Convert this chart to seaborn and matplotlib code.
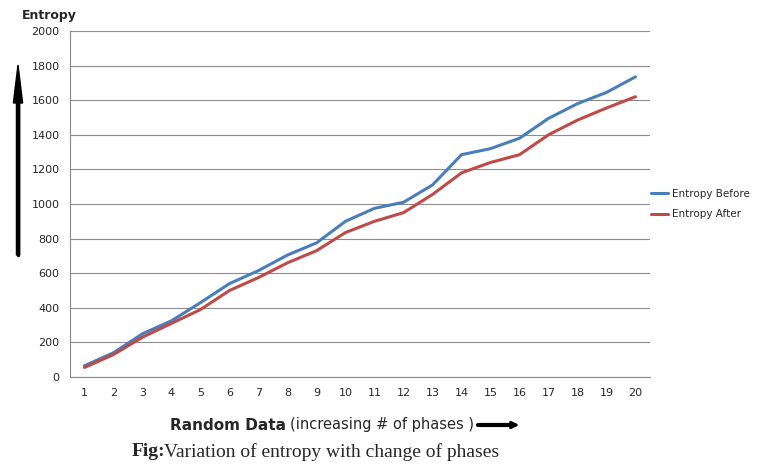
import numpy as np
import pandas as pd
import matplotlib.pyplot as plt
import seaborn as sns

phases = list(range(1, 21))
entropy_before = [65, 140, 250, 325, 430, 540, 615, 705, 775, 900,
                  975, 1010, 1110, 1285, 1320, 1380, 1495, 1580, 1645, 1735]
entropy_after = [55, 130, 230, 310, 390, 500, 575, 660, 730, 835,
                 900, 950, 1055, 1180, 1240, 1285, 1400, 1485, 1555, 1620]

df = pd.DataFrame({"phase": phases * 2,
                   "entropy": entropy_before + entropy_after,
                   "serie": ["Entropy Before"] * 20 + ["Entropy After"] * 20})

sns.set_style("white")
fig = plt.figure(figsize=(7.67, 4.74), dpi=100)
ax = fig.add_axes([70 / 767, 1 - 377 / 474, 580 / 767, 346 / 474])

sns.lineplot(data=df, x="phase", y="entropy", hue="serie",
             palette={"Entropy Before": "#4a7ebb", "Entropy After": "#be4b48"},
             linewidth=2.2, ax=ax)

ax.set_xlim(0.5, 20.5)
ax.set_ylim(0, 2000)
ax.set_yticks(range(0, 2001, 200))
ax.set_xticks(phases)
ax.set_xticks(np.arange(0.5, 21, 1), minor=True)
ax.tick_params(axis="x", which="major", length=0, labelsize=8, pad=8)
ax.tick_params(axis="x", which="minor", length=4, color="#888888", direction="out")
ax.tick_params(axis="y", labelsize=8, length=4, color="#888888")
ax.yaxis.grid(True, color="#8c8c8c", linewidth=0.8)
for s in ["top", "right"]:
    ax.spines[s].set_visible(False)
for s in ["left", "bottom"]:
    ax.spines[s].set_color("#888888")
ax.set_xlabel("")
ax.set_ylabel("")

ax.legend(loc="center left", bbox_to_anchor=(0.995, 0.5), frameon=False,
          fontsize=7.5, handlelength=1.6, handletextpad=0.4, borderaxespad=0,
          labelspacing=1.0)

fig.text(22 / 767, 1 - 16 / 474, "Entropy", fontsize=9, fontweight="bold", va="center")
fig.text(170 / 767, 1 - 425 / 474, "Random Data", fontsize=11, fontweight="bold", va="center")
fig.text(290 / 767, 1 - 425 / 474, "(increasing # of phases )", fontsize=10.5, va="center")
fig.text(132 / 767, 1 - 452 / 474, "Fig:", fontsize=14, fontweight="bold",
         family="Liberation Serif", va="center")
fig.text(164 / 767, 1 - 452 / 474, "Variation of entropy with change of phases", fontsize=14,
         family="Liberation Serif", va="center")

fig.patches.append(plt.Arrow(18 / 767, 1 - 255 / 474, 0, 190 / 474, width=0.02,
                             transform=fig.transFigure, color="black"))
fig.add_artist(plt.Line2D([18 / 767, 18 / 767], [1 - 255 / 474, 1 - 80 / 474],
                          color="black", linewidth=2.5))
fig.add_artist(plt.Line2D([478 / 767, 510 / 767], [1 - 425 / 474, 1 - 425 / 474],
                          color="black", linewidth=3))
ax.annotate("", xy=(522 / 767, 1 - 425 / 474), xytext=(505 / 767, 1 - 425 / 474),
            xycoords="figure fraction",
            arrowprops=dict(arrowstyle="-|>", color="black", lw=2))

fig.savefig("out.png", dpi=100)
